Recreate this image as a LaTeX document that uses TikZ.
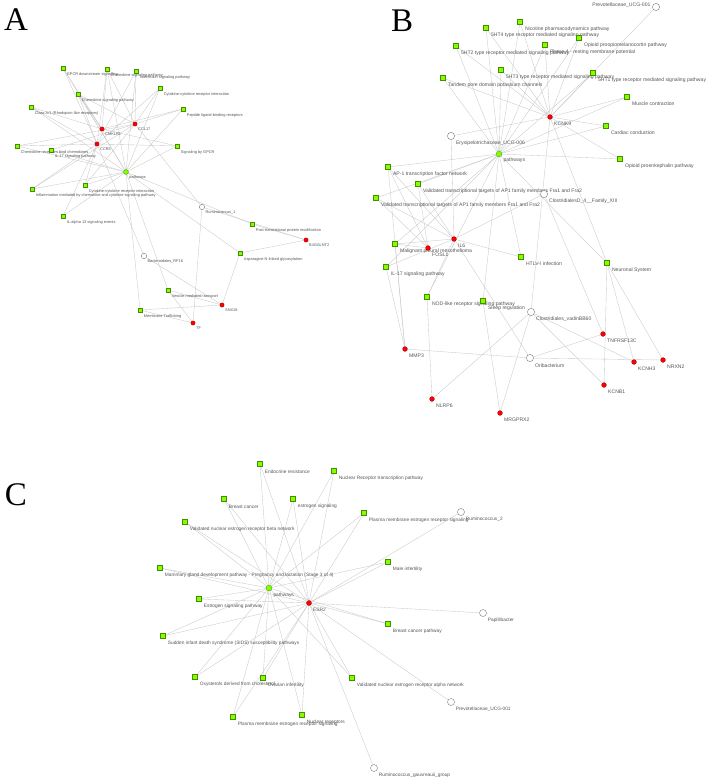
\documentclass[tikz,border=0pt]{standalone}
\usepackage{fontspec}
\setmainfont{Liberation Serif}
\newfontfamily\labfont{Liberation Sans}
\usetikzlibrary{backgrounds}
\definecolor{pwgreen}{HTML}{7FFF00}
\definecolor{pwedge}{HTML}{4A8C00}
\definecolor{gnred}{HTML}{FF0000}
\definecolor{gnedge}{HTML}{A00000}
\definecolor{bacgray}{HTML}{7A7A7A}
\definecolor{labgray}{HTML}{555555}
\definecolor{linkgray}{HTML}{C8C8C8}
\newcommand\fA{\labfont\fontsize{3.9}{4.5}\selectfont}
\newcommand\fB{\labfont\fontsize{5.1}{6}\selectfont}
\newcommand\fC{\labfont\fontsize{4.8}{5.6}\selectfont}

\begin{document}
\begin{tikzpicture}[x=1pt,y=-1pt,
  link/.style={draw=linkgray,line width=0.35pt},
  sq/.style={rectangle,draw=pwedge,fill=pwgreen,line width=0.3pt,inner sep=0pt,minimum size=#1},
  gn/.style={circle,draw=gnedge,fill=gnred,line width=0.3pt,inner sep=0pt,minimum size=#1},
  hub/.style={circle,draw=pwedge,fill=pwgreen,line width=0.3pt,inner sep=0pt,minimum size=#1},
  bac/.style={circle,draw=bacgray,fill=white,line width=0.4pt,inner sep=0pt,minimum size=#1},
  lbA/.style={font=\fA,text=labgray,inner sep=0pt,anchor=west,xshift=1.4pt,yshift=-3.7pt},
  lbB/.style={font=\fB,text=labgray,inner sep=0pt,anchor=west,xshift=2.2pt,yshift=-4.5pt},
  lbC/.style={font=\fC,text=labgray,inner sep=0pt,anchor=west,xshift=2.1pt,yshift=-4.8pt},
  lbBl/.style={font=\fB,text=labgray,inner sep=0pt,anchor=east,xshift=-1.5pt,yshift=1.5pt},
  la/.style={label={[lbA]south east:#1}},
  lb/.style={label={[lbB]south east:#1}},
  lc/.style={label={[lbC]south east:#1}},
  letter/.style={font=\fontsize{33}{33}\selectfont}]
 \useasboundingbox (0,0) rectangle (708,781);
 \node[letter] (letA) at (16,20) {A};
 \node[letter] (letB) at (402,21) {B};
 \node[letter] (letC) at (16,495) {C};

 % panel A
 \node[sq=4.3pt,la=GPCR downstream signalling] (aGds) at (63,68) {};
 \node[sq=4.3pt,la=Chemokine signaling pathway] (aChm) at (107,69) {};
 \node[sq=4.3pt,la=Interleukin signaling pathway] (aIntl) at (136,71) {};
 \node[sq=4.3pt,la=Cytokine-cytokine receptor interaction] (aCyt) at (160,88) {};
 \node[sq=4.3pt,la=Chemokine signaling pathway] (aChs) at (78,94) {};
 \node[sq=4.3pt,la=Class A/1 (Rhodopsin-like receptors)] (aCls) at (31,107) {};
 \node[sq=4.3pt,la=Peptide ligand-binding receptors] (aPep) at (183,109) {};
 \node[sq=4.3pt,la=Signaling by GPCR] (aSg) at (177,146) {};
 \node[sq=4.3pt,la=Chemokine receptors bind chemokines] (aCrb) at (17,146) {};
 \node[sq=4.3pt,la=IL-17 signaling pathway] (aIl) at (51,150) {};
 \node[sq=4.3pt,la=Cytokine-cytokine receptor interaction] (aCyb) at (85,185) {};
 \node[sq=4.3pt,la=Inflammation mediated by chemokine and cytokine signaling pathway] (aInf) at (32,189) {};
 \node[sq=4.3pt,la=IL-alpha 13 signaling events] (aIla) at (63,216) {};
 \node[hub=5pt,la=pathways] (aPw) at (126,172) {};
 \node[gn=4.3pt,la=CMKLR1] (aCmk) at (102,129) {};
 \node[gn=4.3pt,la=CCR5] (aCcr) at (97,144) {};
 \node[gn=4.3pt,la=CCL17] (aCcl) at (135,124) {};
 \node[bac=5.3pt,la=Ruminococcus\_1] (aRum) at (202,207) {};
 \node[sq=4.3pt,la=Post-translational protein modification] (aPtm) at (252,224) {};
 \node[gn=4.3pt,la=B4GALNT2] (aB4) at (306,240) {};
 \node[sq=4.3pt,la=Asparagine N-linked glycosylation] (aAsn) at (240,253) {};
 \node[bac=5.3pt,la=Bacteroidales\_RF16] (aBac) at (144,256) {};
 \node[sq=4.3pt,la=Vesicle-mediated transport] (aVes) at (168,290) {};
 \node[gn=4.3pt,la=SNX18] (aSnx) at (222,305) {};
 \node[sq=4.3pt,la=Membrane Trafficking] (aMem) at (140,310) {};
 \node[gn=4.3pt,la=TF] (aTf) at (193,323) {};

 % panel B
 \node[bac=7.2pt,label={[lbBl]west:Prevotellaceae\_UCG-001}] (bPrev) at (656,7) {};
 \node[sq=5pt,lb=Nicotine pharmacodynamics pathway] (bNic) at (520,22) {};
 \node[sq=5pt,lb=5HT4 type receptor mediated signaling pathway] (bHt4) at (486,28) {};
 \node[sq=5pt,lb=Opioid proopiomelanocortin pathway] (bOpo) at (579,38) {};
 \node[sq=5pt,lb=Phase 4 - resting membrane potential] (bPh4) at (545,45) {};
 \node[sq=5pt,lb=5HT2 type receptor mediated signaling pathway] (bHt2) at (456,46) {};
 \node[sq=5pt,lb=5HT3 type receptor mediated signaling pathway] (bHt3) at (501,70) {};
 \node[sq=5pt,lb=5HT1 type receptor mediated signaling pathway] (bHt1) at (593,73) {};
 \node[sq=5pt,lb=Tandem pore domain potassium channels] (bTan) at (443,78) {};
 \node[sq=5pt,lb=Muscle contraction] (bMus) at (627,97) {};
 \node[gn=4.8pt,lb=KCNK9] (bKcnk) at (550,117) {};
 \node[sq=5pt,lb=Cardiac conduction] (bCar) at (606,126) {};
 \node[bac=7.2pt,lb=Erysipelotrichaceae\_UCG-006] (bEry) at (451,136) {};
 \node[hub=5.7pt,lb=pathways] (bPw) at (499,154) {};
 \node[sq=5pt,lb=Opioid proenkephalin pathway] (bOpe) at (620,159) {};
 \node[sq=5pt,lb=AP-1 transcription factor network] (bAp1) at (388,167) {};
 \node[sq=5pt,lb=Validated transcriptional targets of AP1 family members Fra1 and Fra2] (bFra1) at (418,184) {};
 \node[bac=7.2pt,lb=ClostridialesD\_4\_\_Family\_XIII] (bClo) at (544,194) {};
 \node[sq=5pt,lb=Validated transcriptional targets of AP1 family members Fra1 and Fra2] (bFra2) at (376,198) {};
 \node[gn=4.8pt,lb=IL6] (bIl6) at (454,239) {};
 \node[sq=5pt,lb=Malignant pleural mesothelioma] (bMal) at (395,244) {};
 \node[gn=4.8pt,lb=FOSL1] (bFos) at (428,248) {};
 \node[sq=5pt,lb=HTLV-I infection] (bHtlv) at (521,257) {};
 \node[sq=5pt,lb=Neuronal System] (bNeu) at (607,263) {};
 \node[sq=5pt,lb=IL-17 signaling pathway] (bIl17) at (386,267) {};
 \node[sq=5pt,lb=NOD-like receptor signaling pathway] (bNod) at (427,297) {};
 \node[sq=5pt,lb=Sleep regulation] (bSlp) at (483,301) {};
 \node[bac=7.2pt,lb=Clostridiales\_vadinBB60] (bVad) at (531,312) {};
 \node[gn=4.8pt,lb=TNFRSF13C] (bTnf) at (603,334) {};
 \node[gn=4.8pt,lb=MMP3] (bMmp) at (405,349) {};
 \node[bac=7.2pt,lb=Oribacterium] (bOri) at (530,358) {};
 \node[gn=4.8pt,lb=KCNH3] (bKch) at (634,362) {};
 \node[gn=4.8pt,lb=NRXN2] (bNrx) at (663,360) {};
 \node[gn=4.8pt,lb=KCNB1] (bKcb) at (604,385) {};
 \node[gn=4.8pt,lb=NLRP6] (bNlr) at (432,399) {};
 \node[gn=4.8pt,lb=MRGPRX2] (bMrg) at (500,413) {};

 % panel C
 \node[sq=5pt,lc=Endocrine resistance] (cEndo) at (260,464) {};
 \node[sq=5pt,lc=Nuclear Receptor transcription pathway] (cNrt) at (334,471) {};
 \node[sq=5pt,lc=Breast cancer] (cBc) at (224,499) {};
 \node[sq=5pt,lc=estrogen signaling] (cEs) at (293,499) {};
 \node[sq=5pt,lc=Plasma membrane estrogen receptor signaling] (cPm1) at (364,513) {};
 \node[bac=7pt,lc=Ruminococcus\_2] (cRum) at (461,512) {};
 \node[sq=5pt,lc=Validated nuclear estrogen receptor beta network] (cVnb) at (185,522) {};
 \node[sq=5pt,lc=Male infertility] (cMale) at (388,562) {};
 \node[sq=5pt,lc=Mammary gland development pathway - Pregnancy and lactation (Stage 3 of 4)] (cMam) at (160,568) {};
 \node[hub=6pt,lc=pathways] (cPw) at (269,588) {};
 \node[sq=5pt,lc=Estrogen signaling pathway] (cEsp) at (199,599) {};
 \node[gn=5pt,lc=ESR2] (cEsr) at (309,603) {};
 \node[sq=5pt,lc=Breast cancer pathway] (cBcp) at (388,624) {};
 \node[bac=7pt,lc=Papillibacter] (cPap) at (483,613) {};
 \node[sq=5pt,lc=Sudden infant death syndrome (SIDS) susceptibility pathways] (cSids) at (163,636) {};
 \node[sq=5pt,lc=Oxysterols derived from cholesterol] (cOxy) at (195,677) {};
 \node[sq=5pt,lc=Ovarian infertility] (cOva) at (263,678) {};
 \node[sq=5pt,lc=Validated nuclear estrogen receptor alpha network] (cVna) at (352,678) {};
 \node[bac=7pt,lc=Prevotellaceae\_UCG-001] (cPrev) at (451,702) {};
 \node[sq=5pt,lc=Plasma membrane estrogen receptor signaling] (cPm2) at (233,717) {};
 \node[sq=5pt,lc=Nuclear receptors] (cNr) at (302,715) {};
 \node[bac=7pt,lc=Ruminococcus\_gauvreauii\_group] (cGau) at (374,768) {};

 \begin{pgfonlayer}{background}
 \foreach \b in {aGds,aChm,aIntl,aCyt,aChs,aCls,aPep,aSg,aCrb,aIl,aCyb,aInf,aIla,aPtm,aAsn,aVes,aMem}
   \draw[link] (aPw)--(\b);
 \foreach \a/\b in {aCmk/aGds,aCmk/aChm,aCmk/aCls,aCmk/aPep,aCmk/aSg,aCmk/aChs,
   aCcr/aGds,aCcr/aChm,aCcr/aIntl,aCcr/aCyt,aCcr/aCls,aCcr/aChs,aCcr/aCrb,aCcr/aCyb,aCcr/aInf,aCcr/aIla,aCcr/aSg,
   aCcl/aChm,aCcl/aIntl,aCcl/aCyt,aCcl/aChs,aCcl/aCrb,aCcl/aIl,aCcl/aCyb,aCcl/aInf,aCcl/aPep,
   aRum/aCcl,aRum/aTf,aRum/aB4,aBac/aCcr,aBac/aSnx,aB4/aPtm,aB4/aAsn,aSnx/aAsn,aSnx/aVes,aSnx/aMem,aTf/aMem,aTf/aVes}
   \draw[link] (\a)--(\b);
 \foreach \b in {bNic,bHt4,bOpo,bPh4,bHt2,bHt3,bHt1,bTan,bMus,bCar,bOpe,bAp1,bFra1,bFra2,bMal,bHtlv,bNeu,bIl17,bNod,bSlp}
   \draw[link] (bPw)--(\b);
 \foreach \b in {bNic,bHt4,bOpo,bPh4,bHt2,bHt3,bHt1,bTan,bMus,bCar,bOpe,bNeu}
   \draw[link] (bKcnk)--(\b);
 \foreach \a/\b in {bIl6/bAp1,bIl6/bFra1,bIl6/bFra2,bIl6/bMal,bIl6/bHtlv,bIl6/bIl17,bIl6/bNod,
   bFos/bAp1,bFos/bFra1,bFos/bFra2,bFos/bMal,bMmp/bIl17,bMmp/bMal,bMmp/bAp1,bNlr/bNod,bMrg/bSlp,
   bKcb/bNeu,bKch/bNeu,bNrx/bNeu,bPrev/bKcnk,bEry/bKcnk,bEry/bIl6,bClo/bIl6,bClo/bTnf,
   bVad/bKcnk,bVad/bNlr,bVad/bMrg,bVad/bKcb,bVad/bKch,bOri/bMmp,bOri/bTnf,bOri/bNrx,bOri/bIl6}
   \draw[link] (\a)--(\b);
 \foreach \b in {cEndo,cNrt,cBc,cEs,cPm1,cVnb,cMale,cMam,cEsp,cBcp,cSids,cOxy,cOva,cVna,cPm2,cNr}
   {\draw[link] (cPw)--(\b); \draw[link] (cEsr)--(\b);}
 \foreach \b in {cRum,cPap,cPrev,cGau}
   \draw[link] (cEsr)--(\b);
 \end{pgfonlayer}
\end{tikzpicture}
\end{document}
